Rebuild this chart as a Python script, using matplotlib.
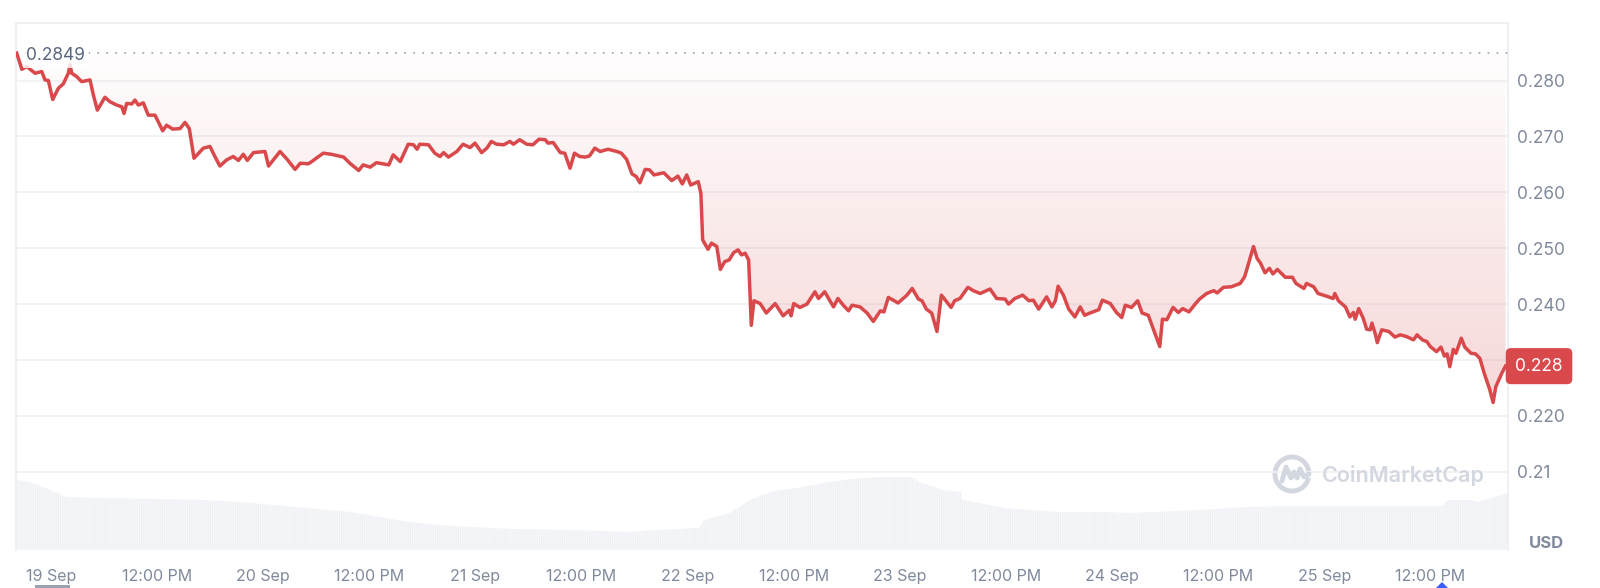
import numpy as np
import matplotlib
matplotlib.use("Agg")
import matplotlib.pyplot as plt
from matplotlib.colors import LinearSegmentedColormap
from matplotlib.patches import Arc, Polygon, FancyBboxPatch

# hours since 19 Sep 00:00 and price (USD)
hours = [-3.88, -3.3, -2.75, -1.8, -1.05, -0.68, -0.3, 0.19, 0.83, 1.39, 1.96, 2.15, 2.34, 2.9, 3.47,
         4.41, 4.79, 5.24, 6.1, 6.67, 7.43, 8.0, 8.26, 8.56, 9.13, 9.5, 9.88, 10.44, 11.0, 11.76,
         12.63, 13.08, 13.76, 14.6, 15.16, 15.64, 16.17, 17.23, 17.98, 18.44, 19.1, 19.87, 20.6, 21.2,
         21.75, 22.2, 22.9, 24.2, 24.6, 25.3, 25.9, 26.7, 27.6, 28.2, 29.1, 29.5, 30.0, 30.8, 31.7,
         33.1, 33.8, 34.8, 35.3, 36.1, 36.8, 37.5, 38.2, 38.7, 39.5, 40.4, 41.0, 41.4, 41.7, 42.7,
         43.4, 44.0, 44.4, 44.95, 45.9, 46.6, 47.4, 47.95, 48.7, 49.3, 49.8, 50.4, 51.2, 51.9, 52.3,
         53.0, 53.8, 54.5, 55.2, 55.9, 56.2, 56.8, 57.6, 58.1, 58.7, 59.2, 59.8, 60.4, 60.9, 61.5,
         62.1, 63.0, 64.0, 64.5, 65.1, 65.7, 66.2, 66.6, 67.2, 67.7, 68.2, 69.3, 70.2, 70.9, 71.4,
         71.9, 72.35, 73.2, 73.5, 73.7, 74.3, 74.7, 75.3, 75.7, 76.2, 76.7, 77.2, 77.7, 78.1, 78.5,
         78.9, 79.2, 79.5, 80.2, 80.9, 81.9, 82.8, 83.5, 83.7, 84.0, 84.7, 85.5, 86.4, 86.8, 87.5,
         88.5, 89.0, 89.6, 90.2, 90.6, 91.5, 92.3, 93.0, 93.8, 94.2, 94.7, 95.8, 96.8, 97.4, 98.1,
         98.5, 99.0, 99.6, 100.2, 100.7, 101.3, 101.8, 102.2, 102.8, 103.7, 104.3, 105.1, 106.2,
         106.95, 107.9, 108.3, 109.0, 109.9, 110.6, 111.1, 111.7, 112.6, 113.2, 113.6, 113.9, 114.5,
         115.1, 115.8, 116.4, 116.9, 117.5, 118.5, 118.9, 119.8, 120.5, 121.1, 121.5, 122.2, 122.9,
         123.4, 124.1, 124.7, 125.4, 125.7, 126.2, 126.9, 127.5, 128.0, 128.7, 129.4, 129.9, 130.7,
         131.5, 131.9, 132.6, 133.5, 134.5, 135.0, 135.5, 136.0, 136.4, 136.8, 137.3, 137.8, 138.2,
         138.7, 139.6, 140.4, 140.8, 141.7, 142.0, 142.8, 143.3, 144.3, 145.0, 145.2, 145.6, 146.4,
         146.9, 147.3, 147.5, 147.9, 148.4, 148.8, 149.2, 149.4, 149.8, 150.0, 150.5, 151.3, 152.0,
         152.6, 153.3, 154.1, 154.5, 155.1, 155.6, 156.0, 156.7, 157.2, 157.6, 157.9, 158.2, 158.6,
         158.9, 159.5, 159.9, 160.6, 161.1, 161.6, 162.1, 162.7, 163.1, 163.4, 164.1, 164.5]
price = [0.2849, 0.2820, 0.2825, 0.2813, 0.2816, 0.2801, 0.2800, 0.2766, 0.2786, 0.2794, 0.2813, 0.2828, 0.2813, 0.2807, 0.2798,
         0.2801, 0.2774, 0.2747, 0.2770, 0.2762, 0.2756, 0.2753, 0.2741, 0.2759, 0.2758, 0.2765, 0.2756, 0.2760, 0.2738, 0.2738,
         0.2710, 0.2720, 0.2713, 0.2714, 0.2725, 0.2714, 0.2661, 0.2679, 0.2682, 0.2667, 0.2647, 0.2658, 0.2664, 0.2657,
         0.2668, 0.2657, 0.2671, 0.2673, 0.2647, 0.2661, 0.2673, 0.2659, 0.2641, 0.2652, 0.2651, 0.2655, 0.2661, 0.2670, 0.2668,
         0.2663, 0.2652, 0.2639, 0.2649, 0.2645, 0.2653, 0.2651, 0.2649, 0.2667, 0.2655, 0.2686, 0.2685, 0.2677, 0.2686, 0.2685,
         0.2670, 0.2664, 0.2671, 0.2663, 0.2673, 0.2686, 0.2680, 0.2688, 0.2671, 0.2679, 0.2691, 0.2686, 0.2685, 0.2691, 0.2686,
         0.2694, 0.2686, 0.2685, 0.2695, 0.2694, 0.2688, 0.2689, 0.2671, 0.2670, 0.2643, 0.2670, 0.2664, 0.2663, 0.2665, 0.2679,
         0.2673, 0.2677, 0.2673, 0.2670, 0.2659, 0.2633, 0.2628, 0.2617, 0.2641, 0.2640, 0.2631, 0.2635, 0.2621, 0.2629, 0.2615,
         0.2631, 0.2613, 0.2619, 0.2598, 0.2515, 0.2498, 0.2509, 0.2503, 0.2462, 0.2476, 0.2479, 0.2492, 0.2497, 0.2488, 0.2491,
         0.2479, 0.2362, 0.2406, 0.2401, 0.2384, 0.2401, 0.2379, 0.2389, 0.2379, 0.2401, 0.2394, 0.2400, 0.2422, 0.2410, 0.2422,
         0.2395, 0.2410, 0.2398, 0.2388, 0.2398, 0.2395, 0.2384, 0.2369, 0.2388, 0.2386, 0.2412, 0.2402, 0.2416, 0.2428, 0.2409,
         0.2406, 0.2391, 0.2384, 0.2351, 0.2416, 0.2404, 0.2394, 0.2406, 0.2410, 0.2430, 0.2424, 0.2419, 0.2427,
         0.2410, 0.2409, 0.2400, 0.2410, 0.2416, 0.2406, 0.2407, 0.2391, 0.2413, 0.2395, 0.2406, 0.2432, 0.2416,
         0.2391, 0.2377, 0.2395, 0.2380, 0.2384, 0.2390, 0.2407, 0.2401, 0.2385, 0.2376, 0.2398, 0.2394, 0.2406,
         0.2384, 0.2380, 0.2354, 0.2324, 0.2373, 0.2372, 0.2394, 0.2385, 0.2392, 0.2386, 0.2400, 0.2409, 0.2419,
         0.2424, 0.2420, 0.2430, 0.2431, 0.2437, 0.2449, 0.2476, 0.2503, 0.2482, 0.2473, 0.2456, 0.2464, 0.2454,
         0.2462, 0.2448, 0.2448, 0.2437, 0.2428, 0.2437, 0.2431, 0.2419, 0.2414, 0.2410, 0.2419, 0.2406, 0.2395,
         0.2377, 0.2385, 0.2373, 0.2392, 0.2375, 0.2355, 0.2354, 0.2366, 0.2345, 0.2331, 0.2354, 0.2351, 0.2341,
         0.2345, 0.2342, 0.2336, 0.2345, 0.2336, 0.2333, 0.2324, 0.2315, 0.2323, 0.2307, 0.2311, 0.2288, 0.2319,
         0.2312, 0.2339, 0.2323, 0.2312, 0.2311, 0.2303, 0.2276, 0.2248, 0.2224, 0.2252, 0.2277, 0.2289]

# volume (arbitrary units)
vol_hours = [-3.96, -2.38, -0.11, 1.7, 5.54, 11.2, 17.3, 22.5, 28.8, 33.8, 40.4, 45.1, 51.9, 58.7, 65.1,
             68.9, 73.3, 73.9, 76.8, 79.1, 81.3, 84.3, 88.1, 90.5, 93.8, 97.2, 98.5, 100.9, 102.9, 103.1,
             107.8, 113.6, 118.6, 122.3, 125.1, 130.0, 135.5, 141.3, 152.6, 157.4, 158.0, 160.3, 161.5, 164.75]
volume = [70, 68, 60, 53, 52, 51, 50, 47, 42, 38, 28, 24, 21, 20, 18,
          20, 22, 30, 37, 50, 58, 62, 68, 71, 73, 73, 67, 60, 58, 50,
          42, 38, 38, 37, 38, 40, 43, 44, 44, 44, 50, 50, 48, 57]

open_price = 0.2849
last_label = "0.228"
# 0.230 sits behind the current-price box, so its label is not shown
y_ticks = [0.21, 0.22, 0.24, 0.25, 0.26, 0.27, 0.28]
y_labels = ["0.21", "0.220", "0.240", "0.250", "0.260", "0.270", "0.280"]
grid_levels = [0.21, 0.22, 0.23, 0.24, 0.25, 0.26, 0.27, 0.28]
x_ticks = [0, 12, 24, 36, 48, 60, 72, 84, 96, 108, 120, 132, 144, 156]
x_labels = ["19 Sep", "12:00 PM", "20 Sep", "12:00 PM", "21 Sep", "12:00 PM", "22 Sep",
            "12:00 PM", "23 Sep", "12:00 PM", "24 Sep", "12:00 PM", "25 Sep", "12:00 PM"]

RED = "#d9494c"
GREY = "#808a9d"
GRID = "#eff1f4"

plt.rcParams["font.family"] = ["Inter", "DejaVu Sans"]
plt.rcParams["hatch.linewidth"] = 0.6

W, H = 1600, 588
fig = plt.figure(figsize=(W / 100, H / 100), dpi=100)
left, right, top, bottom = 16, 1507.7, 22.7, 550
pos = [left / W, 1 - bottom / H, (right - left) / W, (bottom - top) / H]

ax = fig.add_axes(pos, zorder=2)
axv = fig.add_axes(pos, zorder=1, sharex=ax)
ax.patch.set_visible(False)

# volume area, striped like thin bars
axv.fill_between(vol_hours, volume, 0, facecolor="#eff1f5", edgecolor="#f8f9fb", hatch="||||||||", lw=0)
axv.set_ylim(0, bottom - top)
axv.axis("off")

xlim = (-3.96, 164.75)
ylim = (0.280 - (bottom - 80.5) / 5590, 0.280 + (80.5 - top) / 5590)

for t in grid_levels:
    ax.axhline(t, color=GRID, lw=1.2, zorder=1)

# gradient between the line and the opening price
poly = ax.fill_between(hours, price, open_price, facecolor="none", edgecolor="none")
cmap = LinearSegmentedColormap.from_list("g", [(0.85, 0.29, 0.30, 0.01), (0.85, 0.29, 0.30, 0.22)])
grad = np.linspace(0, 1, 256).reshape(-1, 1)
im = ax.imshow(grad, cmap=cmap, aspect="auto", origin="upper",
               extent=[xlim[0], xlim[1], 0.222, open_price], zorder=2, interpolation="bilinear")
im.set_clip_path(poly.get_paths()[0], transform=ax.transData)
ax.set_xlim(*xlim)
ax.set_ylim(*ylim)

ax.axhline(open_price, color="#a3abb9", lw=1.3, ls=(0, (1, 4)), zorder=3)
ax.plot(hours, price, color=RED, lw=2.5, zorder=4, solid_joinstyle="round")

ax.annotate("0.2849", xy=(0, open_price), xycoords=ax.get_yaxis_transform(),
            xytext=(7.5, -2), textcoords="offset points", fontsize=12.5, color="#58667e",
            va="center", ha="left", zorder=5,
            bbox=dict(boxstyle="square,pad=0.2", fc="white", ec="none", alpha=0.8))

# ticks
ax.yaxis.tick_right()
ax.set_yticks(y_ticks)
ax.set_yticklabels(y_labels)
ax.tick_params(axis="y", length=0, pad=7, labelsize=12.5, labelcolor=GREY)
ax.set_xticks(x_ticks)
ax.set_xticklabels(x_labels)
ax.tick_params(axis="x", length=0, pad=14, labelsize=11.5, labelcolor=GREY)
for lab in ax.get_yticklabels():
    lab.set_horizontalalignment("left")

for s in ["top", "right", "left"]:
    ax.spines[s].set_color("#eceef2")
    ax.spines[s].set_linewidth(1.2)
ax.spines["bottom"].set_visible(False)

# current price box
ax.text(1 + (1539 - right) / (right - left), price[-1], last_label, transform=ax.get_yaxis_transform(),
        ha="center", va="center", fontsize=12.5, color="white", zorder=6, clip_on=False,
        bbox=dict(boxstyle="round,pad=0.55,rounding_size=0.3", fc=RED, ec="none"))

fig.text(1546 / W, 1 - 544 / H, "USD", fontsize=12, fontweight="bold", color=GREY, ha="center", va="center")

# watermark
cx, cy, r = 1292, 474, 17
wm = "#d3d7e0"
fig.patches.append(Arc((cx / W, 1 - cy / H), 2 * r / W, 2 * r / H, theta1=25, theta2=330,
                       transform=fig.transFigure, color=wm, lw=3.5))
px = np.array([-10, -6, -1, 2, 5, 8, 12, 17]) + cx
py = np.array([7, -7, 4, -2, 4, -5, 3, 0]) + cy
fig.lines.append(plt.Line2D(px / W, 1 - py / H, transform=fig.transFigure, color=wm, lw=3.5,
                            solid_joinstyle="round", solid_capstyle="round"))
fig.text(1322 / W, 1 - 476 / H, "CoinMarketCap", fontsize=15.5, fontweight="semibold", color=wm,
         ha="left", va="center")

# small UI marks at the bottom
fig.patches.append(FancyBboxPatch((35 / W, 0.0), 35 / W, 3 / H, boxstyle="round,pad=0",
                                  transform=fig.transFigure, fc="#9aa3b2", ec="none"))
fig.patches.append(Polygon([[1436 / W, 0], [1448 / W, 0], [1442 / W, 6 / H]], closed=True,
                           transform=fig.transFigure, fc="#3861fb", ec="none"))

fig.savefig("out.png", dpi=100, facecolor="white")
